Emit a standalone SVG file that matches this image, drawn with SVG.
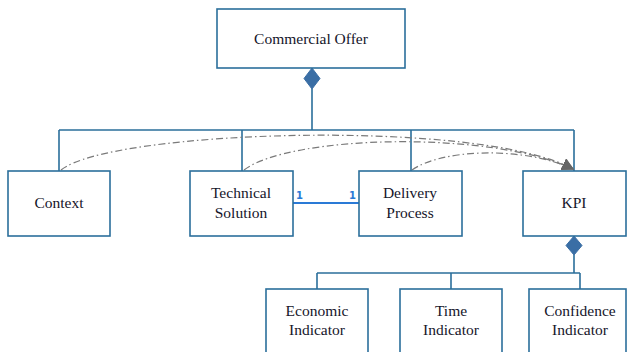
<svg xmlns="http://www.w3.org/2000/svg" width="627" height="352" viewBox="0 0 627 352">
<style>
.box{fill:#fff;stroke:#2b6f9b;stroke-width:1.6}
.t{font-family:'Liberation Serif','DejaVu Serif','Times New Roman',serif;font-size:15.5px;fill:#15152a;text-anchor:middle}
.ln{fill:none;stroke:#2b6f9b;stroke-width:1.6}
.dia{fill:#3a6ea5;stroke:#3a6ea5}
.dep{fill:none;stroke:#7a7a7a;stroke-width:1.2;stroke-dasharray:7,3,1.5,3}
.assoc{stroke:#2a7ad6;stroke-width:1.8}
.m{font-family:'DejaVu Sans',sans-serif;font-size:10px;font-weight:bold;fill:#2a7ad6}
</style>
<defs>
<marker id="ah" viewBox="0 0 10 10" refX="9" refY="5" markerWidth="12" markerHeight="12" markerUnits="userSpaceOnUse" orient="auto">
<path d="M0,0 L10,5 L0,10 z" fill="#666"/>
</marker>
</defs>
<g id="connectors">
<path class="ln" d="M312,89 V130 M59,130 H574 M59,130 V171 M242,130 V171 M411,130 V171 M574,130 V171"/>
<path class="dia" d="M312,68 L320,78.5 L312,89 L304,78.5 z"/>
<path class="ln" d="M574,255 V273 M317,273 H580 M317,273 V289 M451,273 V289 M580,273 V289"/>
<path class="dia" d="M574,236 L582,245.5 L574,255 L566,245.5 z"/>
<line class="assoc" x1="293" y1="203" x2="359" y2="203"/>
<text class="m" x="296" y="199">1</text>
<text class="m" x="349" y="199">1</text>
<path class="dep" d="M61,170 C110,130 480,118 573,169" marker-end="url(#ah)"/>
<path class="dep" d="M244,170 C290,135 490,130 573,169" marker-end="url(#ah)"/>
<path class="dep" d="M412,170 C440,150 520,145 573,169" marker-end="url(#ah)"/>
</g>
<g id="commercial-offer"><rect class="box" x="217" y="9" width="188" height="59"/><text class="t" x="311" y="44">Commercial Offer</text></g>
<g id="context"><rect class="box" x="8" y="171" width="102" height="65"/><text class="t" x="59" y="208">Context</text></g>
<g id="technical-solution"><rect class="box" x="190" y="171" width="103" height="65"/><text class="t" x="241" y="198">Technical</text><text class="t" x="241" y="218">Solution</text></g>
<g id="delivery-process"><rect class="box" x="359" y="171" width="103" height="65"/><text class="t" x="410" y="198">Delivery</text><text class="t" x="410" y="218">Process</text></g>
<g id="kpi"><rect class="box" x="523" y="171" width="103" height="65"/><text class="t" x="574" y="208">KPI</text></g>
<g id="economic-indicator"><rect class="box" x="266" y="289" width="102" height="70"/><text class="t" x="317" y="316">Economic</text><text class="t" x="317" y="335">Indicator</text></g>
<g id="time-indicator"><rect class="box" x="400" y="289" width="102" height="70"/><text class="t" x="451" y="316">Time</text><text class="t" x="451" y="335">Indicator</text></g>
<g id="confidence-indicator"><rect class="box" x="529" y="289" width="97" height="70"/><text class="t" x="580" y="316">Confidence</text><text class="t" x="580" y="335">Indicator</text></g>
</svg>
